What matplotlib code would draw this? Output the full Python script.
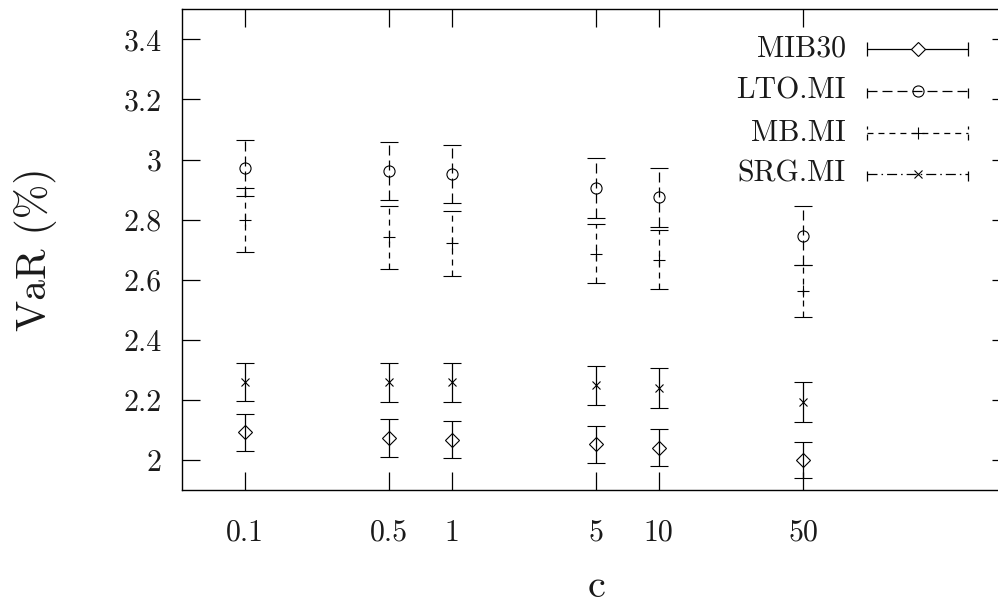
import matplotlib
matplotlib.use("Agg")
import matplotlib.pyplot as plt

plt.rcParams['font.family'] = ['cmr10', 'DejaVu Serif']
plt.rcParams['lines.scale_dashes'] = False
plt.rcParams['axes.formatter.use_mathtext'] = True

# data
c_vals = [0.1, 0.5, 1, 5, 10, 50]
c_labels = ["0.1", "0.5", "1", "5", "10", "50"]

mib30 = [2.092, 2.074, 2.067, 2.052, 2.041, 2.000]
mib30_err = [0.062, 0.064, 0.062, 0.061, 0.061, 0.060]
lto = [2.972, 2.962, 2.951, 2.906, 2.874, 2.747]
lto_err = [0.092, 0.096, 0.096, 0.100, 0.099, 0.098]
mb = [2.798, 2.741, 2.721, 2.687, 2.667, 2.563]
mb_err = [0.106, 0.105, 0.107, 0.098, 0.097, 0.086]
srg = [2.260, 2.258, 2.258, 2.249, 2.240, 2.192]
srg_err = [0.064, 0.065, 0.064, 0.065, 0.066, 0.066]

y_ticks = [2, 2.2, 2.4, 2.6, 2.8, 3, 3.2, 3.4]
y_labels = ["2", "2.2", "2.4", "2.6", "2.8", "3", "3.2", "3.4"]

series = [
    ("MIB30", mib30, mib30_err, 'D', 7.0, (0, ()), 'solid'),
    ("LTO.MI", lto, lto_err, 'o', 8.0, (0, (7.2, 3.6)), (0, (7.2, 3.6))),
    ("MB.MI", mb, mb_err, '+', 8.3, (0, (4.3, 3.6)), (0, (4.3, 3.6))),
    ("SRG.MI", srg, srg_err, 'x', 6.2, (0, (7.2, 2.9, 1.1, 2.9)), 'solid'),
]

txt_col = '#1a1a1a'

fig = plt.figure(figsize=(9.98, 6.10), dpi=100)
ax = fig.add_axes([0.1827, 0.1967, 0.8297, 0.788])

lw = 0.9
for name, vals, errs, mk, ms, leg_ls, bar_ls in series:
    line, caps, bars = ax.errorbar(c_vals, vals, yerr=errs, fmt=mk, ms=ms,
                                   mfc='none', mec='black', mew=0.8,
                                   color='black', ecolor='black',
                                   elinewidth=lw, capsize=6.8, capthick=lw)
    bars[0].set_linestyle(bar_ls)

ax.set_xscale('log')
ax.set_xlim(0.05, 500)
ax.set_ylim(1.9, 3.5)
ax.set_xticks(c_vals)
ax.set_xticklabels(c_labels)
ax.minorticks_off()
ax.set_yticks(y_ticks)
ax.set_yticklabels(y_labels)

ax.tick_params(direction='in', length=13, width=0.9, labelsize=21.5,
               top=True, right=True, labelcolor=txt_col)
ax.tick_params(axis='y', pad=14.8)
ax.tick_params(axis='x', pad=21)
for sp in ax.spines.values():
    sp.set_linewidth(1.0)

ax.set_xlabel("c", fontsize=29, labelpad=16, color=txt_col)
ax.set_ylabel("VaR (%)", fontsize=30, labelpad=48, color=txt_col)

# gnuplot style key, text right aligned then sample
key_rows = [0.917, 0.830, 0.7427, 0.657]
tx, xs, xe, xm = 0.801, 0.8266, 0.949, 0.888
for (name, vals, errs, mk, ms, leg_ls, bar_ls), yy in zip(series, key_rows):
    ax.text(tx, yy, name, transform=ax.transAxes, ha='right', va='center',
            fontsize=21.5, color=txt_col)
    ax.plot([xs, xe], [yy, yy], transform=ax.transAxes, color='black',
            lw=lw, linestyle=leg_ls, clip_on=False)
    for xx in (xs, xe):
        ax.plot([xx, xx], [yy - 0.014, yy + 0.014], transform=ax.transAxes,
                color='black', lw=lw, linestyle=leg_ls, clip_on=False)
    ax.plot([xm], [yy], transform=ax.transAxes, marker=mk, ms=ms,
            mfc='white' if mk == 'D' else 'none', mec='black', mew=0.8,
            clip_on=False)

fig.savefig("out.png", dpi=100)
